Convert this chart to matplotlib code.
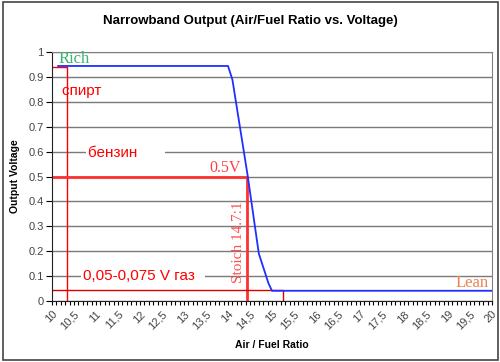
import matplotlib
matplotlib.use("Agg")
import matplotlib.pyplot as plt
from matplotlib.ticker import MultipleLocator, FuncFormatter
from matplotlib.patches import Rectangle

# данные кривой узкополосного датчика
afr = [10.14, 14.0, 14.1, 14.45, 14.7, 14.92, 15.0, 20.0]
volt = [0.945, 0.945, 0.89, 0.5, 0.19, 0.07, 0.04, 0.04]

# красные линии-пометки
rich_afr, rich_v = 10.33, 0.94
stoich_afr, stoich_v = 14.44, 0.5
gas_afr, gas_v = 15.26, 0.044

plt.rcParams['font.family'] = ['Liberation Sans', 'DejaVu Sans']

fig = plt.figure(figsize=(5, 3.62), dpi=100)
ax = fig.add_axes([0.104, 0.1693, 0.88, 0.6862])

ax.set_xlim(10, 20)
ax.set_ylim(0, 1)

ax.set_axisbelow(True)
ax.yaxis.set_major_locator(MultipleLocator(0.1))
ax.grid(axis='y', color='#7a7a7a', linewidth=1.0)

ax.xaxis.set_major_locator(MultipleLocator(0.5))
ax.xaxis.set_minor_locator(MultipleLocator(0.1))
ax.xaxis.set_major_formatter(FuncFormatter(lambda v, p: ('%g' % v).replace('.', ',')))
ax.yaxis.set_major_formatter(FuncFormatter(lambda v, p: '%g' % round(v, 1)))

ax.tick_params(axis='x', which='both', direction='out', length=3, width=0.8,
               labelsize=8, labelcolor='#444444', pad=3)
ax.tick_params(axis='y', direction='out', length=4, width=0.8,
               labelsize=8, labelcolor='#444444', pad=2)
for lab in ax.get_xticklabels():
    lab.set_rotation(45)
    lab.set_ha('right')
    lab.set_va('top')
    lab.set_rotation_mode('anchor')

for s in ['top', 'right']:
    ax.spines[s].set_color('#808080')
ax.spines['left'].set_color('#222222')
ax.spines['bottom'].set_color('#222222')

# красные линии
ax.plot([10, rich_afr, rich_afr], [rich_v, rich_v, 0], color='#ff0000', lw=1.0, zorder=2)
ax.plot([10, stoich_afr, stoich_afr], [stoich_v, stoich_v, 0], color='#ff3030', lw=2.0, zorder=2)
ax.plot([10, gas_afr, gas_afr], [gas_v, gas_v, 0], color='#dd0000', lw=1.0, zorder=2)

# кривая
ax.plot(afr, volt, color='#1f2fff', lw=1.3, zorder=3)

box = dict(facecolor='white', edgecolor='none', pad=1.5)
ax.text(10.22, 0.844, 'спирт     ', color='#ff0000', fontsize=11, va='center', bbox=box, zorder=1.5)
ax.text(10.82, 0.595, 'бензин      ', color='#ff0000', fontsize=11, va='center', bbox=box, zorder=1.5)
ax.text(10.70, 0.10, '0,05-0,075 V газ  ', color='#ff0000', fontsize=11, va='center', bbox=box, zorder=1.5)

serif = ['Liberation Serif', 'DejaVu Serif']
ax.text(10.14, 0.973, 'Rich', color='#3cb371', fontsize=12, va='center', family=serif)
ax.text(13.57, 0.534, '0.5V', color='#ff4040', fontsize=11.5, va='center', family=serif)
ax.text(14.39, 0.07, 'Stoich 14.7:1', color='#ff5050', fontsize=11, rotation=90,
        ha='right', va='bottom', family=serif)
ax.text(19.93, 0.071, 'Lean', color='#f08050', fontsize=12, ha='right', va='center', family=serif)

ax.set_xlabel('Air / Fuel Ratio', fontsize=7.5, fontweight='bold', labelpad=6)
ax.set_ylabel('Output Voltage', fontsize=7.5, fontweight='bold', labelpad=6)
fig.text(0.5, 0.942, 'Narrowband Output (Air/Fuel Ratio vs. Voltage)', ha='center', va='center',
         fontsize=9.5, fontweight='bold')

fig.patches.append(Rectangle((0.005, 0.005), 0.99, 0.99, transform=fig.transFigure,
                             fill=False, edgecolor='#444444', lw=1.2))

fig.savefig('out.png', dpi=100)
